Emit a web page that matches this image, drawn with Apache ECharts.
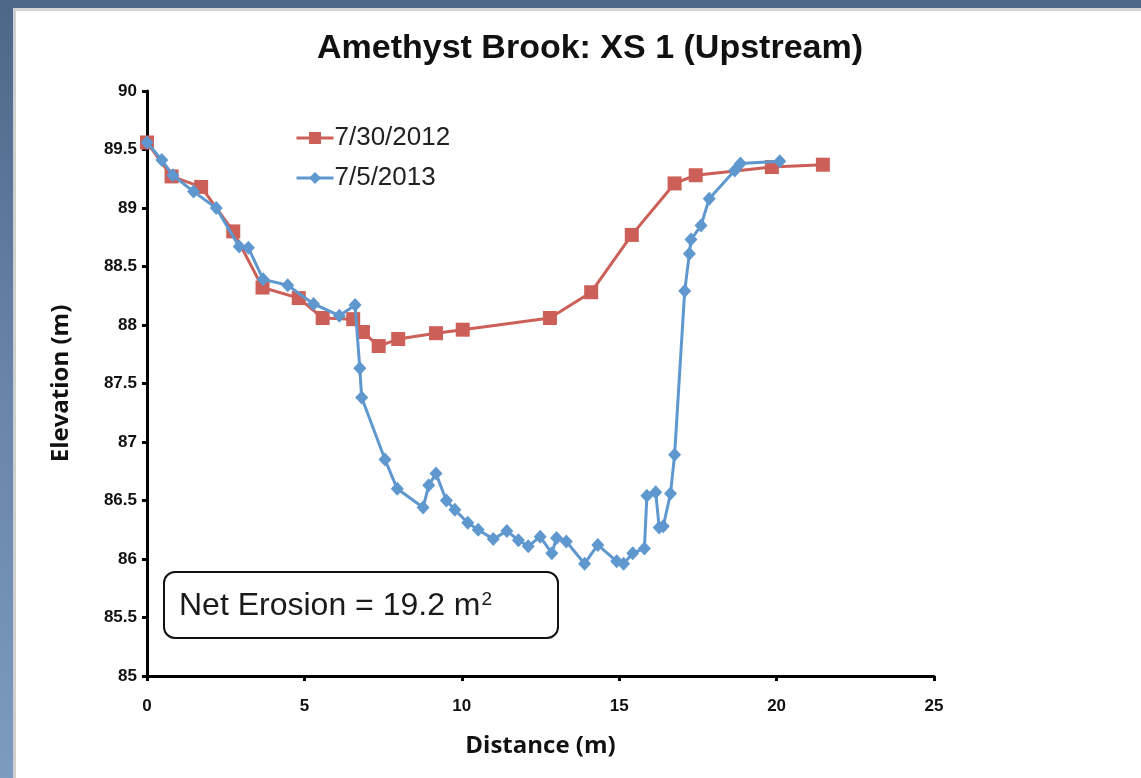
<!DOCTYPE html>
<html>
<head>
<meta charset="utf-8">
<title>Amethyst Brook: XS 1 (Upstream)</title>
<script src="https://cdn.jsdelivr.net/npm/echarts@6/dist/echarts.min.js"></script>
<style>
  html, body { margin: 0; padding: 0; width: 1141px; height: 778px; overflow: hidden; }
  body { background: linear-gradient(to bottom, #4d6788 0%, #6884a8 50%, #7c9bbf 100%); position: relative; }
  #panel { position: absolute; left: 13px; top: 8px; right: 0; bottom: 0; background: #ffffff;
           border-left: 3px solid #cfcfcf; border-top: 3px solid #d6d6d6; }
  #chart { position: absolute; left: 0; top: 0; width: 1141px; height: 778px; }
</style>
</head>
<body>
<div id="panel"></div>
<div id="chart"></div>
<script>
// Cross-section survey: distance across the channel (m) and bed elevation (m)
const dist2012 = [0, 0.78, 1.72, 2.74, 3.67, 4.82, 5.58, 6.55, 6.86, 7.36, 7.98, 9.18, 10.03, 12.8, 14.11, 15.4, 16.76, 17.43, 19.85, 21.47];
const elev2012 = [89.56, 89.27, 89.18, 88.80, 88.32, 88.23, 88.06, 88.05, 87.94, 87.82, 87.88, 87.93, 87.96, 88.06, 88.28, 88.77, 89.21, 89.28, 89.35, 89.37];

const dist2013 = [0, 0.47, 0.82, 1.48, 2.2, 2.93, 3.22, 3.69, 4.47, 5.29, 6.11, 6.61, 6.76, 6.82, 7.56, 7.95, 8.77, 8.95, 9.18, 9.51,
                  9.78, 10.19, 10.52, 11.0, 11.43, 11.8, 12.11, 12.49, 12.86, 13.01, 13.32, 13.9, 14.32, 14.92, 15.14, 15.43, 15.8, 15.88, 16.16, 16.27,
                  16.4, 16.63, 16.76, 17.08, 17.23, 17.28, 17.6, 17.86, 18.67, 18.85, 20.1];
const elev2013 = [89.56, 89.41, 89.28, 89.14, 89.0, 88.67, 88.66, 88.39, 88.34, 88.18, 88.08, 88.17, 87.63, 87.38, 86.85, 86.6, 86.44, 86.63, 86.73, 86.5,
                  86.42, 86.31, 86.25, 86.17, 86.24, 86.16, 86.11, 86.19, 86.05, 86.18, 86.15, 85.96, 86.12, 85.98, 85.96, 86.05, 86.09, 86.54, 86.57, 86.27,
                  86.28, 86.56, 86.89, 88.29, 88.61, 88.73, 88.85, 89.08, 89.32, 89.38, 89.40];

const seriesNames = ['7/30/2012', '7/5/2013'];
const titleText = 'Amethyst Brook: XS 1 (Upstream)';
const xName = 'Distance (m)';
const yName = 'Elevation (m)';
const noteText = 'Net Erosion = 19.2 m';
const noteUnitPower = '2';

const zip = (xs, ys) => xs.map((x, i) => [x, ys[i]]);

const RED = '#cc5f57';
const BLUE = '#5f97cf';
const sansFont = '"Liberation Sans", Arial, sans-serif';
const nameFont = '"Open Sans", Lato, sans-serif';

const chart = echarts.init(document.getElementById('chart'), null, { renderer: 'canvas' });

chart.setOption({
  backgroundColor: 'transparent',
  animation: false,
  title: {
    text: titleText,
    left: 585,
    top: 27,
    textAlign: 'center',
    textStyle: { fontFamily: sansFont, fontWeight: 'bold', fontSize: 34, color: '#111' }
  },
  legend: {
    orient: 'vertical',
    left: 290,
    top: 120,
    itemWidth: 37,
    itemHeight: 15,
    itemGap: 14,
    lineStyle: { width: 3 },
    textStyle: { fontFamily: sansFont, fontSize: 26, color: '#222', padding: [0, 0, 0, -4] },
    data: seriesNames
  },
  grid: { left: 147, right: 207, top: 91, bottom: 102, containLabel: false },
  xAxis: {
    type: 'value',
    min: 0, max: 25, interval: 5,
    name: xName,
    nameLocation: 'middle',
    nameGap: 58,
    nameTextStyle: { fontFamily: nameFont, fontWeight: 'bold', fontSize: 24, color: '#111' },
    axisLine: { show: true, onZero: false, lineStyle: { color: '#000', width: 3 } },
    axisTick: { show: true, inside: false, length: 5, lineStyle: { color: '#000', width: 3 } },
    axisLabel: { fontFamily: sansFont, fontWeight: 'bold', fontSize: 17, color: '#111', margin: 22 },
    splitLine: { show: false }
  },
  yAxis: {
    type: 'value',
    min: 85, max: 90, interval: 0.5,
    name: yName,
    nameLocation: 'middle',
    nameGap: 74,
    nameRotate: 90,
    nameTextStyle: { fontFamily: nameFont, fontWeight: 'bold', fontSize: 24, color: '#111' },
    axisLine: { show: true, onZero: false, lineStyle: { color: '#000', width: 3 } },
    axisTick: { show: true, inside: false, length: 5, lineStyle: { color: '#000', width: 3 } },
    axisLabel: { fontFamily: sansFont, fontWeight: 'bold', fontSize: 17, color: '#111', margin: 10 },
    splitLine: { show: false }
  },
  series: [
    {
      name: seriesNames[0],
      type: 'line',
      data: zip(dist2012, elev2012),
      symbol: 'rect',
      symbolSize: 14,
      lineStyle: { color: RED, width: 3 },
      itemStyle: { color: RED },
      z: 2
    },
    {
      name: seriesNames[1],
      type: 'line',
      data: zip(dist2013, elev2013),
      symbol: 'diamond',
      symbolSize: [13, 14],
      lineStyle: { color: BLUE, width: 3 },
      itemStyle: { color: BLUE },
      z: 3
    }
  ],
  graphic: [
    {
      type: 'group',
      left: 163,
      top: 571,
      children: [
        {
          type: 'rect',
          shape: { x: 0, y: 0, width: 394, height: 66, r: 11 },
          style: { fill: '#fff', stroke: '#111', lineWidth: 2 }
        },
        {
          type: 'text',
          x: 15,
          y: 16,
          style: {
            text: '{a|' + noteText + '}{s|' + noteUnitPower + '}',
            rich: {
              a: { fontFamily: sansFont, fontSize: 32, fill: '#1a1a1a', color: '#1a1a1a', verticalAlign: 'bottom', lineHeight: 34 },
              s: { fontFamily: sansFont, fontSize: 19, fill: '#1a1a1a', color: '#1a1a1a', verticalAlign: 'top', lineHeight: 34, padding: [2, 0, 0, 1] }
            }
          }
        }
      ]
    }
  ]
});
</script>
</body>
</html>
